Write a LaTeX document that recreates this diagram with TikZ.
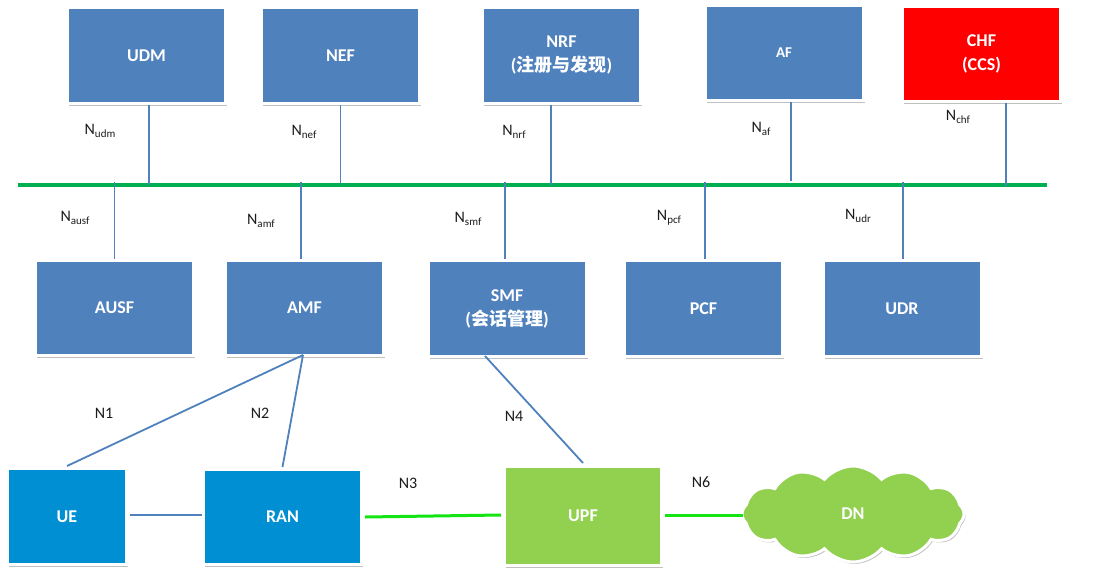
\documentclass[tikz,border=0pt]{standalone}
\usepackage{fontspec}
\setmainfont{Carlito}
\newfontfamily\cjk{Noto Sans CJK SC}
\usetikzlibrary{shapes.symbols,shadows}
\definecolor{boxblue}{HTML}{4F81BD}
\definecolor{ranblue}{HTML}{008FD3}
\definecolor{upfgreen}{HTML}{92D050}
\definecolor{busgreen}{HTML}{00B050}
\definecolor{brightgreen}{RGB}{20,228,20}
\definecolor{linkblue}{HTML}{4F81BD}
\definecolor{lblcol}{HTML}{1C1C1C}
\newcommand\Nsb[1]{N\raisebox{-2.8pt}{\fontsize{11}{12}\selectfont #1}}
\begin{document}
\begin{tikzpicture}[x=1pt,y=-1pt,
  shad/.style={drop shadow={shadow xshift=1.5pt,shadow yshift=-2pt,opacity=0.35,fill=black!70}},
  nbox/.style={rectangle,draw=white,line width=3pt,fill=boxblue,text=white,
    minimum width=158pt,minimum height=96pt,inner sep=0pt,align=center,
    font=\fontsize{18}{24}\selectfont\bfseries,shad},
  link/.style={draw=linkblue,line width=1.8pt},
  bus/.style={draw=busgreen,line width=4pt},
  glink/.style={draw=brightgreen,line width=3pt},
  lbl/.style={text=lblcol,inner sep=0pt,font=\fontsize{16}{17}\selectfont}]
\useasboundingbox (0,0) rectangle (1095,576);
\fill[white] (0,0) rectangle (1095,576);
% top row
\node[nbox] (udm) at (146.5,55.5) {UDM};
\node[nbox] (nef) at (340.5,55.5) {NEF};
\node[nbox] (nrf) at (561.5,55.5) {NRF\\({\cjk 注册与发现})};
\node[nbox,minimum height=95pt,font=\fontsize{15}{18}\selectfont\bfseries] (af) at (784,53) {AF};
\node[nbox,fill=red,minimum height=95pt] (chf) at (981.5,54) {CHF\\(CCS)};
% middle row
\node[nbox,minimum height=95pt] (ausf) at (114.5,308) {AUSF};
\node[nbox,minimum height=95pt] (amf) at (304.5,308) {AMF};
\node[nbox,minimum height=96pt] (smf) at (507,308.5) {SMF\\({\cjk 会话管理})};
\node[nbox,minimum height=96pt] (pcf) at (703.5,308.5) {PCF};
\node[nbox,minimum height=96pt] (udr) at (902,308.5) {UDR};
% bottom row
\node[nbox,fill=ranblue,minimum width=119pt,minimum height=96pt] (ue) at (67,516.5) {UE};
\node[nbox,fill=ranblue,minimum width=158pt,minimum height=95pt] (ran) at (282.5,517) {RAN};
\node[nbox,fill=upfgreen,minimum width=157pt,minimum height=99pt] (upf) at (583,516) {UPF};
\node[cloud,cloud puffs=12,cloud puff arc=100,aspect=2.3,draw=white,line width=3pt,
  fill=upfgreen,text=white,font=\fontsize{18}{24}\selectfont\bfseries,
  minimum width=222pt,minimum height=96pt,inner sep=0pt,shad] (dn) at (853,514) {DN};
% bus
\coordinate (busL) at (18,185);
\coordinate (busR) at (1047,185);
\draw[bus] (busL) -- (busR);
% vertical links to bus
\draw[link] ([xshift=2.5pt]udm.south) -- ([xshift=2.5pt]udm.south |- busL);
\draw[link] (nef.south) -- (nef.south |- busL);
\draw[link] ([xshift=-10.5pt]nrf.south) -- ([xshift=-10.5pt]nrf.south |- busL);
\coordinate (afend) at (791,181);
\draw[link] ([xshift=7pt]af.south) -- (afend);
\draw[link] ([xshift=24.5pt]chf.south) -- ([xshift=24.5pt,yshift=-1pt]chf.south |- busL);
\draw[link] ([yshift=3pt]ausf.north |- busL) -- (ausf.north);
\draw[link] ([xshift=-3.5pt,yshift=3pt]amf.north |- busL) -- ([xshift=-3.5pt]amf.north);
\draw[link] ([xshift=-2pt,yshift=3pt]smf.north |- busL) -- ([xshift=-2pt]smf.north);
\draw[link] ([xshift=1.5pt,yshift=3pt]pcf.north |- busL) -- ([xshift=1.5pt]pcf.north);
\draw[link] ([xshift=1pt,yshift=3pt]udr.north |- busL) -- ([xshift=1pt]udr.north);
% access links
\draw[link] ([xshift=-1.5pt,yshift=2pt]amf.south) -- ([yshift=1pt]ue.north);
\draw[link] ([xshift=-1.5pt,yshift=2pt]amf.south) -- ([yshift=1pt]ran.north);
\draw[link] ([xshift=-22pt,yshift=2pt]smf.south) -- ([yshift=2pt]upf.north);
\draw[link] ([xshift=2pt,yshift=1.5pt]ue.east) -- ([yshift=1.5pt]ue.east -| ran.west);
\draw[glink] ([xshift=2pt]ran.east) -- ([xshift=-2pt,yshift=1pt]upf.west);
\draw[glink] ([xshift=2pt,yshift=1pt]upf.east) -- ([xshift=2pt,yshift=-1pt]dn.west);
% labels
\node[lbl] (ludm) at (100,131) {\Nsb{udm}};
\node[lbl] (lnef) at (304,132) {\Nsb{nef}};
\node[lbl] (lnrf) at (514,132) {\Nsb{nrf}};
\node[lbl] (laf) at (761,129) {\Nsb{af}};
\node[lbl] (lchf) at (958,117) {\Nsb{chf}};
\node[lbl] (lausf) at (75,218) {\Nsb{ausf}};
\node[lbl] (lamf) at (261,221) {\Nsb{amf}};
\node[lbl] (lsmf) at (468,219) {\Nsb{smf}};
\node[lbl] (lpcf) at (669,218) {\Nsb{pcf}};
\node[lbl] (ludr) at (858,216) {\Nsb{udr}};
\node[lbl] (ln1) at (104,413) {N1};
\node[lbl] (ln2) at (260,413) {N2};
\node[lbl] (ln4) at (514,416) {N4};
\node[lbl] (ln3) at (408,483) {N3};
\node[lbl] (ln6) at (701,482) {N6};
\end{tikzpicture}
\end{document}
